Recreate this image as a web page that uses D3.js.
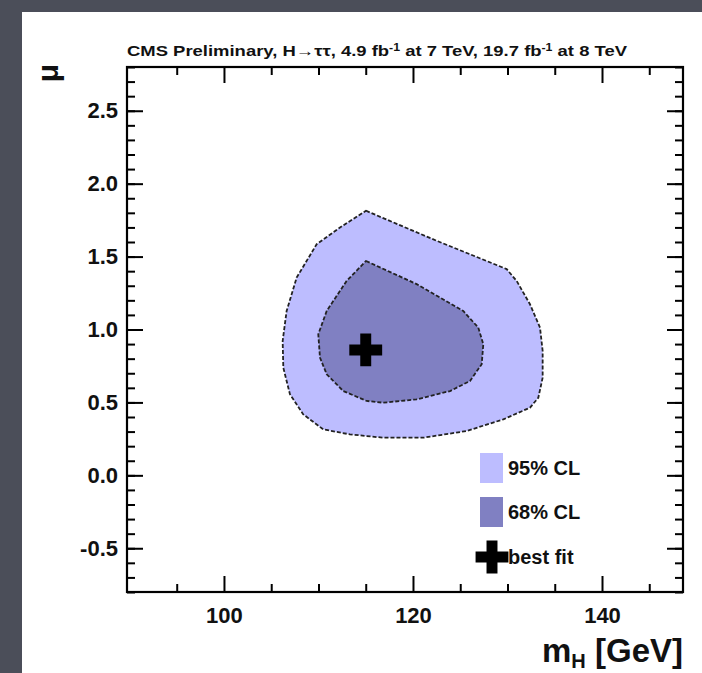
<!DOCTYPE html>
<html>
<head>
<meta charset="utf-8">
<script src="https://cdn.jsdelivr.net/npm/d3@7"></script>
<style>
  html, body { margin: 0; padding: 0; background: #4b4e59; }
  svg { display: block; }
  text { font-family: "Liberation Sans", Arial, Helvetica, sans-serif; font-weight: bold; fill: #111; }
</style>
</head>
<body>
<svg id="chart" width="702" height="673"></svg>
<script>
// Best-fit point and likelihood contours in the (mH, mu) plane
const bestFit = [115.0, 0.86];

const contour95 = [
  [115.03, 1.814], [122.51, 1.608], [129.91, 1.414], [130.97, 1.333],
  [132.38, 1.173], [133.44, 1.013], [133.72, 0.853], [133.72, 0.670],
  [133.26, 0.532], [132.38, 0.464], [129.56, 0.384], [125.68, 0.304],
  [121.09, 0.258], [116.86, 0.258], [113.33, 0.281], [110.51, 0.315],
  [108.39, 0.418], [106.98, 0.556], [106.28, 0.738], [106.21, 0.921],
  [106.63, 1.127], [107.69, 1.356], [109.81, 1.585], [112.28, 1.699]
];

const contour68 = [
  [115.03, 1.470], [120.39, 1.311], [125.32, 1.127], [126.91, 1.013],
  [127.44, 0.899], [127.27, 0.762], [126.03, 0.647], [123.92, 0.578],
  [120.39, 0.521], [116.86, 0.498], [115.10, 0.510], [112.62, 0.578],
  [110.87, 0.693], [110.16, 0.807], [109.98, 0.967], [110.87, 1.127],
  [112.98, 1.333]
];

const xMajorTicks = [100, 120, 140];
const xMinorTicks = [95, 105, 110, 115, 125, 130, 135, 145];
const yMajorTicks = [-0.5, 0.0, 0.5, 1.0, 1.5, 2.0, 2.5];
const yMinorTicks = d3.range(-8, 29).map(d => d / 10);

const legendLabels = ["95% CL", "68% CL", "best fit"];
const fill95 = "#bdbdff";
const fill68 = "#8080c2";

const svg = d3.select("#chart");
const W = 702, H = 673;

// slide backdrop and white panel
svg.append("rect").attr("width", W).attr("height", H).attr("fill", "#4b4e59");
svg.append("rect").attr("x", 22).attr("y", 12).attr("width", W - 22).attr("height", H - 12).attr("fill", "#ffffff");

const frame = { left: 127, right: 683, top: 67, bottom: 592 };

const x = d3.scaleLinear().domain([89.74, 148.57]).range([frame.left, frame.right]);
const y = d3.scaleLinear().domain([-0.8, 2.8]).range([frame.bottom, frame.top]);

// contours
const line = d3.line().x(d => x(d[0])).y(d => y(d[1])).curve(d3.curveLinearClosed);

svg.append("path").attr("d", line(contour95))
  .attr("fill", fill95).attr("stroke", "#222").attr("stroke-width", 1.8)
  .attr("stroke-dasharray", "4,2");
svg.append("path").attr("d", line(contour68))
  .attr("fill", fill68).attr("stroke", "#222").attr("stroke-width", 1.8)
  .attr("stroke-dasharray", "4,2");

const cross = d3.symbol().type(d3.symbolCross).size(600);
svg.append("path").attr("d", cross())
  .attr("transform", `translate(${x(bestFit[0])},${y(bestFit[1])})`)
  .attr("fill", "#000");

// axes with ticks drawn inward on all four sides
function styleAxis(g) {
  g.select(".domain").remove();
  g.selectAll(".tick line").attr("stroke", "#000").attr("stroke-width", 2);
  g.selectAll(".tick text").attr("fill", "#111").style("font-size", "22px")
    .style("font-weight", "bold").style("font-family", '"Liberation Sans", Arial, sans-serif');
}
const fmt = d => d.toFixed(1);

svg.append("g").attr("transform", `translate(0,${frame.bottom})`)
  .call(d3.axisBottom(x).tickValues(xMajorTicks).tickSize(-16).tickPadding(15).tickFormat(d3.format("d")))
  .call(styleAxis);
svg.append("g").attr("transform", `translate(0,${frame.bottom})`)
  .call(d3.axisBottom(x).tickValues(xMinorTicks).tickSize(-8).tickFormat(""))
  .call(styleAxis);
svg.append("g").attr("transform", `translate(0,${frame.top})`)
  .call(d3.axisTop(x).tickValues(xMajorTicks).tickSize(-16).tickFormat(""))
  .call(styleAxis);
svg.append("g").attr("transform", `translate(0,${frame.top})`)
  .call(d3.axisTop(x).tickValues(xMinorTicks).tickSize(-8).tickFormat(""))
  .call(styleAxis);

svg.append("g").attr("transform", `translate(${frame.left},0)`)
  .call(d3.axisLeft(y).tickValues(yMajorTicks).tickSize(-16).tickPadding(9).tickFormat(fmt))
  .call(styleAxis);
svg.append("g").attr("transform", `translate(${frame.left},0)`)
  .call(d3.axisLeft(y).tickValues(yMinorTicks).tickSize(-8).tickFormat(""))
  .call(styleAxis);
svg.append("g").attr("transform", `translate(${frame.right},0)`)
  .call(d3.axisRight(y).tickValues(yMajorTicks).tickSize(-16).tickFormat(""))
  .call(styleAxis);
svg.append("g").attr("transform", `translate(${frame.right},0)`)
  .call(d3.axisRight(y).tickValues(yMinorTicks).tickSize(-8).tickFormat(""))
  .call(styleAxis);

svg.append("rect")
  .attr("x", frame.left).attr("y", frame.top)
  .attr("width", frame.right - frame.left).attr("height", frame.bottom - frame.top)
  .attr("fill", "none").attr("stroke", "#000").attr("stroke-width", 2.2);

// title
const title = svg.append("text").attr("x", frame.left).attr("y", 56)
  .style("font-size", "15px").attr("textLength", 500).attr("lengthAdjust", "spacingAndGlyphs");
title.append("tspan").text("CMS Preliminary, H\u2192\u03c4\u03c4, 4.9 fb");
title.append("tspan").attr("dy", -5).style("font-size", "10px").text("-1");
title.append("tspan").attr("dy", 5).text(" at 7 TeV, 19.7 fb");
title.append("tspan").attr("dy", -5).style("font-size", "10px").text("-1");
title.append("tspan").attr("dy", 5).text(" at 8 TeV");

// axis titles
const xt = svg.append("text").attr("x", frame.right).attr("y", 662)
  .attr("text-anchor", "end").style("font-size", "33px");
xt.append("tspan").text("m");
xt.append("tspan").attr("dy", 6).style("font-size", "20px").text("H");
xt.append("tspan").attr("dy", -6).text(" [GeV]");

svg.append("text").attr("transform", "translate(58,64) rotate(-90)")
  .attr("text-anchor", "end").style("font-size", "30px").text("\u03bc");

// legend
const legendY = [468, 512, 557];
svg.append("rect").attr("x", 480).attr("y", legendY[0] - 15).attr("width", 23).attr("height", 30).attr("fill", fill95);
svg.append("rect").attr("x", 480).attr("y", legendY[1] - 15).attr("width", 23).attr("height", 30).attr("fill", fill68);
svg.append("path").attr("d", cross()).attr("transform", `translate(492,${legendY[2]})`).attr("fill", "#000");
legendLabels.forEach((t, i) => {
  svg.append("text").attr("x", 508).attr("y", legendY[i] + 7)
    .style("font-size", "20px").text(t);
});
</script>
</body>
</html>
